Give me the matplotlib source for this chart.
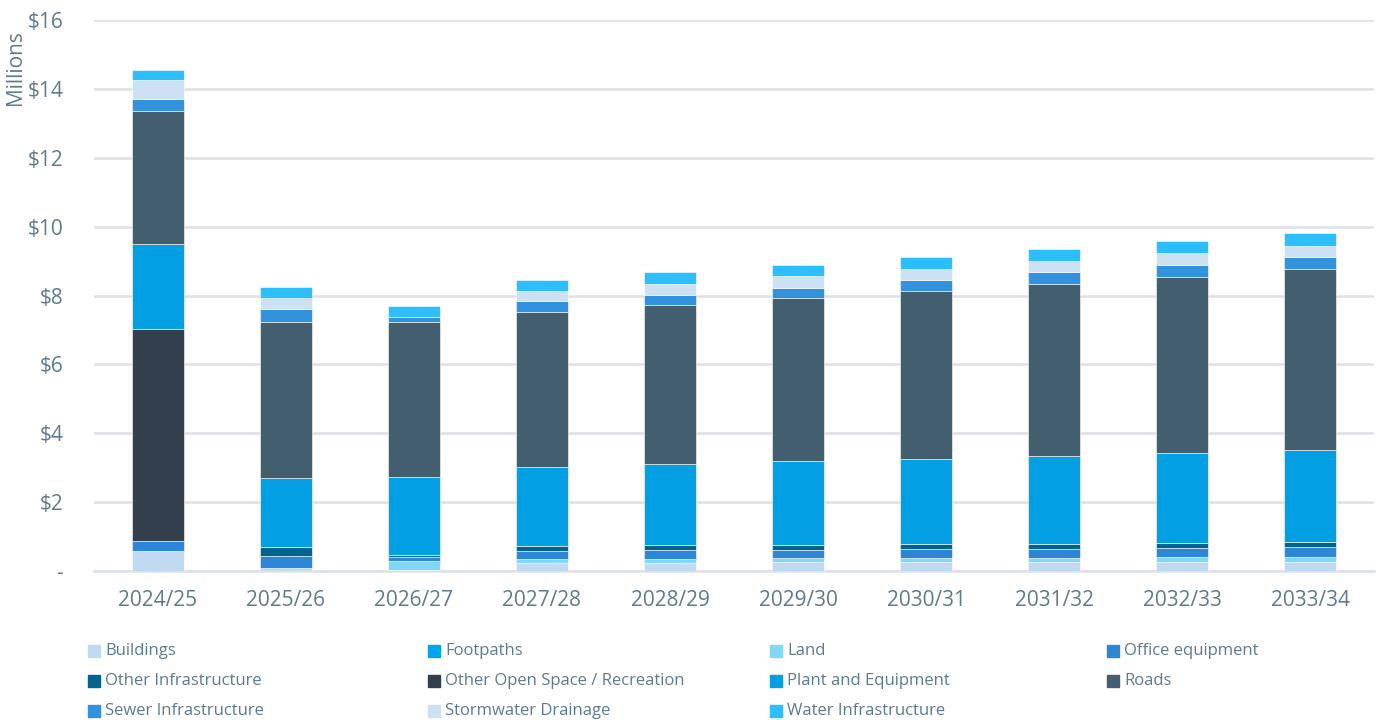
import matplotlib
matplotlib.use("Agg")
import matplotlib.pyplot as plt
from matplotlib.patches import Rectangle
import numpy as np

plt.rcParams['font.family'] = ['Open Sans', 'DejaVu Sans']

years = ["2024/25", "2025/26", "2026/27", "2027/28", "2028/29",
         "2029/30", "2030/31", "2031/32", "2032/33", "2033/34"]

# $ millions per asset class, stacked bottom to top in this order
buildings = [0.58, 0.10, 0.03, 0.24, 0.24, 0.26, 0.26, 0.26, 0.26, 0.26]
footpaths = [0.00, 0.00, 0.00, 0.00, 0.00, 0.00, 0.00, 0.00, 0.00, 0.00]
land = [0.00, 0.00, 0.27, 0.11, 0.11, 0.12, 0.12, 0.12, 0.14, 0.15]
office_equipment = [0.28, 0.33, 0.12, 0.23, 0.26, 0.23, 0.26, 0.26, 0.26, 0.28]
other_infrastructure = [0.00, 0.28, 0.04, 0.15, 0.14, 0.14, 0.14, 0.14, 0.14, 0.14]
other_open_space = [6.16, 0.00, 0.00, 0.00, 0.00, 0.00, 0.00, 0.00, 0.00, 0.00]
plant_equipment = [2.49, 1.99, 2.27, 2.29, 2.36, 2.44, 2.47, 2.56, 2.63, 2.68]
roads = [3.84, 4.53, 4.51, 4.51, 4.61, 4.74, 4.88, 4.99, 5.11, 5.26]
sewer = [0.37, 0.38, 0.13, 0.31, 0.29, 0.29, 0.32, 0.35, 0.34, 0.35]
stormwater = [0.53, 0.32, 0.00, 0.30, 0.32, 0.35, 0.32, 0.32, 0.35, 0.32]
water = [0.29, 0.31, 0.32, 0.31, 0.35, 0.32, 0.35, 0.35, 0.35, 0.37]

series = [
    ("Buildings", buildings, "#C0DBF1"),
    ("Footpaths", footpaths, "#00A6EB"),
    ("Land", land, "#80D6FC"),
    ("Office equipment", office_equipment, "#2E86D6"),
    ("Other Infrastructure", other_infrastructure, "#01648F"),
    ("Other Open Space / Recreation", other_open_space, "#333F4D"),
    ("Plant and Equipment", plant_equipment, "#029FE3"),
    ("Roads", roads, "#435E6F"),
    ("Sewer Infrastructure", sewer, "#3392DE"),
    ("Stormwater Drainage", stormwater, "#CCE2F4"),
    ("Water Infrastructure", water, "#2DBEFD"),
]

yticks = [0, 2, 4, 6, 8, 10, 12, 14, 16]
ytick_labels = ["-", "$2", "$4", "$6", "$8", "$10", "$12", "$14", "$16"]

text_color = "#5E7A8E"
grid_color = "#DCE1E5"

fig = plt.figure(figsize=(13.81, 7.20), dpi=100)
ax = fig.add_axes([0.068, 0.207, 0.927, 0.765])

x = np.arange(len(years))
bottom = np.zeros(len(years))
for name, vals, color in series:
    v = np.array(vals)
    ax.bar(x, v, width=0.40, bottom=bottom, color=color,
           edgecolor="white", linewidth=0.4, zorder=3)
    bottom += v

ax.set_xlim(-0.5, len(years) - 0.5)
ax.set_ylim(0, 16)
ax.set_yticks(yticks)
ax.set_yticklabels(ytick_labels)
ax.set_xticks(x)
ax.set_xticklabels(years)
ax.tick_params(axis="y", length=0, pad=22, labelsize=15, labelcolor=text_color)
ax.tick_params(axis="x", length=0, pad=14, labelsize=15, labelcolor=text_color)
for lbl in ax.get_yticklabels():
    lbl.set_horizontalalignment("right")

ax.grid(axis="y", color=grid_color, linewidth=1.8, zorder=0)
for s in ["top", "right", "left"]:
    ax.spines[s].set_visible(False)
ax.spines["bottom"].set_color(grid_color)
ax.spines["bottom"].set_linewidth(1.8)

fig.text(0.011, 0.958, "Millions", rotation=90, ha="center", va="top",
         fontsize=15, color=text_color)

# Legend laid out row by row in four columns
col_x = [88, 428, 770, 1107]
row_y = [651, 681, 711]
W, H = 1381, 720
for i, (name, vals, color) in enumerate(series):
    r, c = divmod(i, 4)
    px, py = col_x[c], row_y[r]
    fig.patches.append(Rectangle((px / W, (H - py - 6) / H), 12 / W, 12 / H,
                                 transform=fig.transFigure, color=color))
    fig.text((px + 17) / W, (H - py) / H, name, ha="left", va="center",
             fontsize=12, color=text_color)

fig.savefig("out.png", dpi=100)
